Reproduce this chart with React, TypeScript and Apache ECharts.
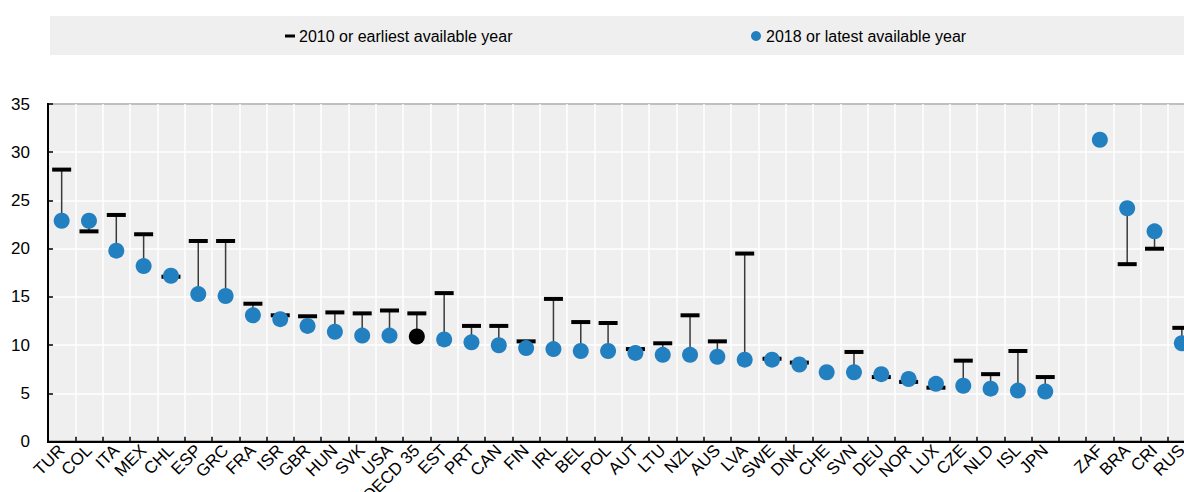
import React, { useEffect, useRef } from "react";
import * as echarts from "echarts";

const categories = ["TUR","COL","ITA","MEX","CHL","ESP","GRC","FRA","ISR","GBR","HUN","SVK","USA","OECD 35","EST","PRT","CAN","FIN","IRL","BEL","POL","AUT","LTU","NZL","AUS","LVA","SWE","DNK","CHE","SVN","DEU","NOR","LUX","CZE","NLD","ISL","JPN","","ZAF","BRA","CRI","RUS"];

const values2010: (number | null)[] = [28.2, 21.8, 23.5, 21.5, 17.1, 20.8, 20.8, 14.3, 13.1, 13.0, 13.4, 13.3, 13.6, 13.3, 15.4, 12.0, 12.0, 10.4, 14.8, 12.4, 12.3, 9.6, 10.2, 13.1, 10.4, 19.5, 8.6, 8.2, null, 9.3, 6.7, 6.2, 5.6, 8.4, 7.0, 9.4, 6.7, null, null, 18.4, 20.0, 11.8];

const values2018: (number | null)[] = [22.9, 22.9, 19.8, 18.2, 17.2, 15.3, 15.1, 13.1, 12.7, 12.0, 11.4, 11.0, 11.0, 10.9, 10.6, 10.3, 10.0, 9.7, 9.6, 9.4, 9.4, 9.2, 9.0, 9.0, 8.8, 8.5, 8.5, 8.0, 7.2, 7.2, 7.0, 6.5, 6.0, 5.8, 5.5, 5.3, 5.2, null, 31.3, 24.2, 21.8, 10.2];

const yTicks = { min: 0, max: 35, interval: 5 };

const name2010 = "2010 or earliest available year";
const name2018 = "2018 or latest available year";
const highlight = "OECD 35";

const FONT = "'Liberation Sans', Arial, sans-serif";
const FS = 16;

export default function App() {
  const ref = useRef<HTMLDivElement>(null);
  useEffect(() => {
    if (!ref.current) return;
    const chart = echarts.init(ref.current, undefined, { renderer: "svg" });
    const connectorData = categories.map((c, i) => [i, values2010[i], values2018[i]]);
    chart.setOption({
      animation: false,
      textStyle: { fontFamily: FONT },
      graphic: [
        {
          type: "rect",
          z: -10,
          silent: true,
          shape: { x: 50, y: 16, width: 1200, height: 39 },
          style: { fill: "#efefef" },
        },
      ],
      legend: [
        {
          data: [{ name: name2010, icon: "rect" }],
          left: 285,
          top: 28,
          padding: 0,
          itemWidth: 10,
          itemHeight: 3,
          itemGap: 4,
          selectedMode: false,
          textStyle: { fontFamily: FONT, fontSize: FS, color: "#000", lineHeight: 16, padding: [0, 0, 0, -1] },
        },
        {
          data: [{ name: name2018, icon: "circle" }],
          left: 751,
          top: 28,
          padding: 0,
          itemWidth: 10,
          itemHeight: 10,
          selectedMode: false,
          textStyle: { fontFamily: FONT, fontSize: FS, color: "#000", lineHeight: 16 },
        },
      ],
      grid: {
        left: 48,
        top: 104,
        width: 1147.5,
        height: 337.7,
        show: true,
        backgroundColor: "#efefef",
        borderColor: "#000",
        borderWidth: 2,
        containLabel: false,
        outerBoundsMode: "none",
      },
      xAxis: {
        type: "category",
        data: categories,
        boundaryGap: true,
        axisLine: { show: true, lineStyle: { color: "#000", width: 2 } },
        axisTick: { show: true, inside: true, length: 5, lineStyle: { color: "#000", width: 1.5 } },
        splitLine: { show: true, lineStyle: { color: "#ffffff", width: 1.5 } },
        axisLabel: {
          rotate: 45,
          interval: 0,
          margin: 6,
          fontFamily: FONT,
          fontSize: 17,
          color: "#000",
          hideOverlap: false,
        },
      },
      yAxis: {
        type: "value",
        min: yTicks.min,
        max: yTicks.max,
        interval: yTicks.interval,
        axisLine: { show: true, lineStyle: { color: "#000", width: 2 } },
        axisTick: { show: true, inside: true, length: 5, lineStyle: { color: "#000", width: 1.5 } },
        splitLine: { show: true, lineStyle: { color: "#ffffff", width: 1.5 } },
        axisLabel: { margin: 18, fontFamily: FONT, fontSize: 17, color: "#000" },
      },
      series: [
        {
          type: "custom",
          name: "connector",
          silent: true,
          z: 1,
          encode: { x: 0, y: [1, 2] },
          data: connectorData,
          renderItem: (params: any, api: any) => {
            const a = api.value(1);
            const b = api.value(2);
            if (a == null || b == null || isNaN(a) || isNaN(b)) return null;
            const p1 = api.coord([api.value(0), a]);
            const p2 = api.coord([api.value(0), b]);
            return {
              type: "line",
              shape: { x1: p1[0], y1: p1[1], x2: p2[0], y2: p2[1] },
              style: { stroke: "#3a3a3a", lineWidth: 1.5 },
            };
          },
        },
        {
          type: "scatter",
          name: name2010,
          z: 2,
          symbol: "rect",
          symbolSize: [19, 4],
          itemStyle: { color: "#000", opacity: 1 },
          data: values2010.map((v) => (v == null ? "-" : v)),
        },
        {
          type: "scatter",
          name: name2018,
          z: 3,
          symbol: "circle",
          symbolSize: 16,
          itemStyle: { color: "#2380c0", opacity: 1 },
          data: values2018.map((v, i) =>
            v == null
              ? "-"
              : categories[i] === highlight
              ? { value: v, itemStyle: { color: "#000" } }
              : v
          ),
        },
      ],
    });
    return () => chart.dispose();
  }, []);
  return (
    <div style={{ position: "fixed", left: 0, top: 0, width: 1184, height: 492, overflow: "hidden", background: "#fff" }}>
      <div ref={ref} style={{ width: 1220, height: 492 }} />
    </div>
  );
}
